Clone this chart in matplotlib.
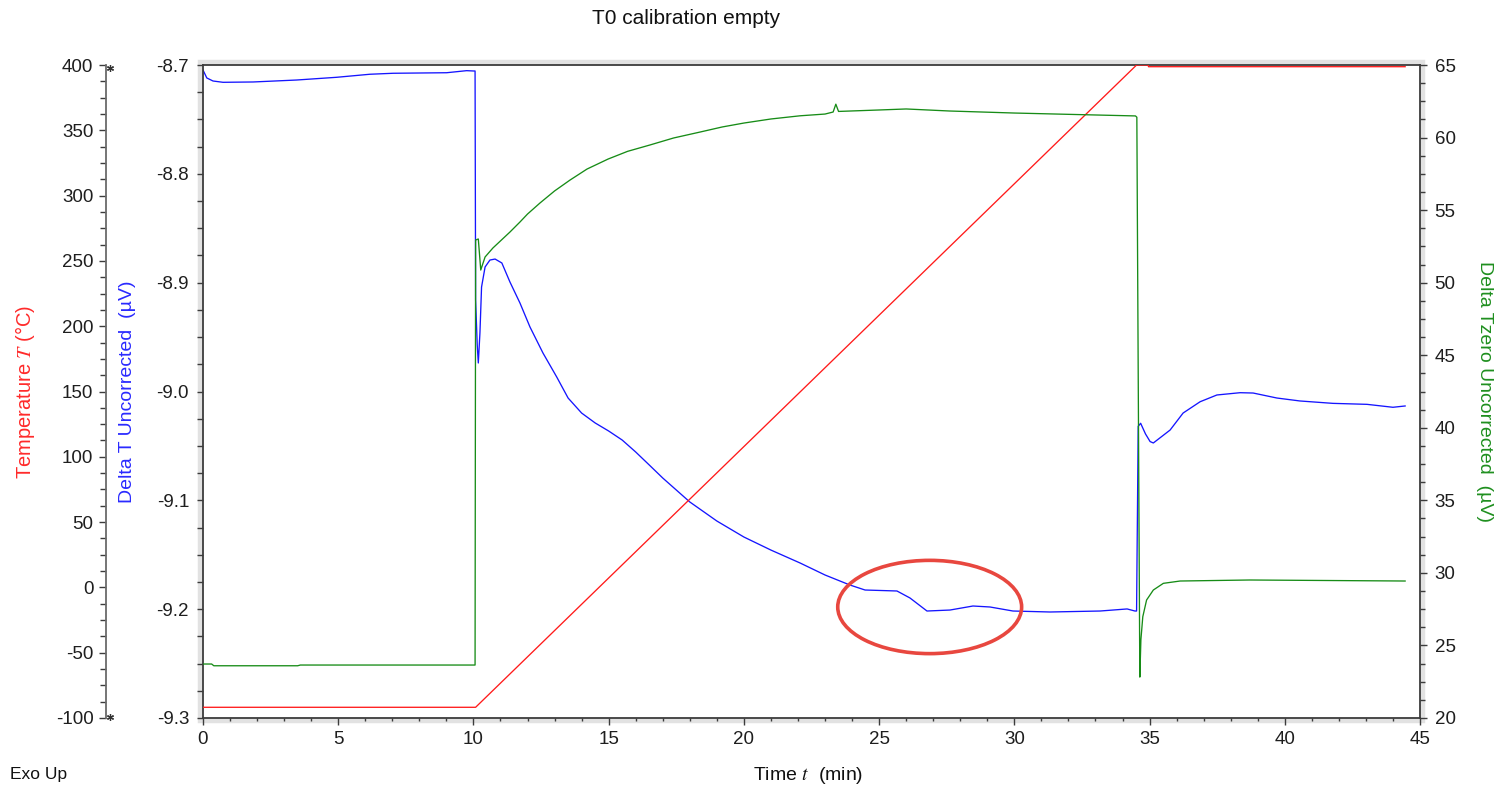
import matplotlib
matplotlib.use("Agg")
import matplotlib.pyplot as plt
from matplotlib.patches import Ellipse, Rectangle
from matplotlib.lines import Line2D
from matplotlib.ticker import MultipleLocator, FormatStrFormatter

plt.rcParams['font.family'] = ['Liberation Sans', 'DejaVu Sans']
plt.rcParams['mathtext.fontset'] = 'stix'
plt.rcParams['axes.unicode_minus'] = False

# ---------------- data ----------------
blue_t = [0.0, 0.14, 0.37, 0.74, 1.85, 3.46, 4.94, 6.17, 7.03, 9.01, 9.75, 10.0,
          10.06, 10.08, 10.14, 10.18, 10.24, 10.30, 10.43, 10.61, 10.80, 11.05,
          11.35, 11.72, 12.09, 12.57, 13.08, 13.50, 14.0, 14.5, 15.0, 15.5,
          16.0, 16.5, 17.0, 17.5, 18.0, 19.0, 20.0, 21.0, 22.08, 23.0,
          23.92, 24.48, 25.66, 26.14, 26.77, 27.62, 28.47, 29.1, 29.95, 31.32,
          33.17, 34.17, 34.46, 34.52, 34.58, 34.67, 34.85, 35.02, 35.14, 35.76,
          36.24, 36.87, 37.49, 38.35, 38.83, 39.71, 40.56, 41.78, 43.04, 44.0, 44.45]
blue_dT = [-8.7046, -8.7119, -8.7147, -8.7159, -8.7156, -8.7138, -8.7113, -8.7085,
           -8.7076, -8.7071, -8.7052, -8.7055,
           -8.7055, -8.9159, -8.9573, -8.9738, -8.9462, -8.9040, -8.8856, -8.8792,
           -8.8783, -8.8819, -8.8994, -8.9187, -8.9407, -8.9646, -8.9867, -9.0060,
           -9.0198, -9.0289, -9.0363, -9.0446, -9.0556, -9.0675, -9.0795, -9.0905,
           -9.1015, -9.1190, -9.1337, -9.1457, -9.1576, -9.1686, -9.1778,
           -9.1824, -9.1833, -9.1897, -9.2017, -9.2008, -9.1971, -9.1980, -9.2017,
           -9.2026, -9.2017, -9.1998, -9.2017,
           -9.2017, -9.0320, -9.0292, -9.0390, -9.0460, -9.0473, -9.0354, -9.0198,
           -9.0094, -9.0032, -9.0011, -9.0014, -9.0060, -9.0087, -9.0109, -9.0118,
           -9.0145, -9.0133]

green_t = [0.0, 0.32, 0.40, 3.5, 3.6, 10.06, 10.08, 10.18, 10.27, 10.43, 10.72,
           11.35, 11.72, 12.0, 12.46, 13.0, 13.57, 14.2, 14.98, 15.7, 16.53, 17.4,
           18.38, 19.2, 20.0, 21.0, 22.08, 23.0, 23.3, 23.4, 23.5, 25.0, 26.0,
           27.6, 30.0, 32.0, 34.48, 34.53, 34.64, 34.68, 34.75, 34.89, 35.14,
           35.51, 36.13, 38.7, 42.0, 44.45]
green_dT0 = [23.72, 23.72, 23.60, 23.60, 23.65, 23.65, 52.94, 53.01, 50.87, 51.77,
             52.39, 53.49, 54.18, 54.73, 55.49, 56.32, 57.07, 57.83, 58.52, 59.05,
             59.49, 59.97, 60.38, 60.73, 61.00, 61.28, 61.50, 61.62, 61.76, 62.30,
             61.80, 61.90, 61.97, 61.83, 61.69, 61.60, 61.49, 61.40, 22.82, 25.40,
             26.98, 28.13, 28.82, 29.28, 29.44, 29.51, 29.47, 29.44]

red_t = [0.0, 10.08, 34.52, 34.95, 34.96, 44.45]
red_T = [-91.8, -91.8, 400.0, 400.0, 398.7, 398.7]

x_ticks = [0, 5, 10, 15, 20, 25, 30, 35, 40, 45]

# highlighted region (annotation ellipse)
circle_center = (26.87, -9.198)
circle_size = (6.80, 0.0857)

# ---------------- figure ----------------
W, H = 1503, 787
fig = plt.figure(figsize=(W / 100, H / 100), dpi=100)
px_l, px_r, px_t, px_b = 203, 1420, 65, 718
ax = fig.add_axes([px_l / W, 1 - px_b / H, (px_r - px_l) / W, (px_b - px_t) / H])
ax.set_zorder(1)

# soft grey frame shadow around plot area
shadow = Rectangle((px_l / W, 1 - px_b / H), (px_r - px_l) / W, (px_b - px_t) / H,
                   transform=fig.transFigure, fill=False, edgecolor='#e2e2e2',
                   linewidth=7.5, zorder=-1)
fig.add_artist(shadow)

spine_col = '#3c3c3c'
tick_lbl_col = '#1e1e1e'
blue = '#1515ff'
green = '#178c17'
red = '#ff1a1a'

ax.plot(blue_t, blue_dT, color=blue, lw=0.95)
ax.set_xlim(0, 45)
ax.set_ylim(-9.3, -8.7)
ax.set_xticks(x_ticks)
ax.xaxis.set_minor_locator(MultipleLocator(1))
ax.yaxis.set_major_locator(MultipleLocator(0.1))
ax.yaxis.set_minor_locator(MultipleLocator(0.025))
ax.yaxis.set_major_formatter(FormatStrFormatter('%.1f'))
for s in ax.spines.values():
    s.set_color(spine_col)
    s.set_linewidth(1.3)
ax.spines['right'].set_visible(False)
ax.tick_params(axis='x', which='major', direction='out', length=5, width=1.0,
               pad=4.5, labelsize=13.5, colors=spine_col, labelcolor=tick_lbl_col)
ax.tick_params(axis='x', which='minor', direction='out', length=2.5, width=1.0,
               colors=spine_col)
ax.tick_params(axis='y', which='major', direction='out', length=4.5, width=1.0,
               pad=5.5, labelsize=13.5, colors=spine_col, labelcolor=tick_lbl_col)
ax.tick_params(axis='y', which='minor', direction='out', length=4, width=1.0,
               colors=spine_col)

ell = Ellipse(circle_center, circle_size[0], circle_size[1], fill=False,
              edgecolor='#e8473f', linewidth=2.6, zorder=5)
ax.add_patch(ell)

# temperature axis (outer left)
ax_t = ax.twinx()
ax_t.plot(red_t, red_T, color=red, lw=0.95)
ax_t.set_ylim(-100, 400)
for k in ['right', 'top', 'bottom']:
    ax_t.spines[k].set_visible(False)
ax_t.spines['left'].set_visible(True)
ax_t.spines['left'].set_position(('axes', (106 - px_l) / (px_r - px_l)))
ax_t.spines['left'].set_color('#6a6a6a')
ax_t.spines['left'].set_linewidth(1.3)
ax_t.yaxis.set_ticks_position('left')
ax_t.yaxis.set_label_position('left')
ax_t.yaxis.set_major_locator(MultipleLocator(50))
ax_t.yaxis.set_minor_locator(MultipleLocator(12.5))
ax_t.tick_params(axis='y', which='major', direction='out', length=5, width=1.0,
                 pad=4, labelsize=13.5, colors=spine_col, labelcolor=tick_lbl_col)
ax_t.tick_params(axis='y', which='minor', direction='out', length=4.5, width=1.0,
                 colors=spine_col)

# green axis (right)
ax_g = ax.twinx()
ax_g.plot(green_t, green_dT0, color=green, lw=0.95)
ax_g.set_ylim(20, 65)
for k in ['left', 'top', 'bottom']:
    ax_g.spines[k].set_visible(False)
ax_g.spines['right'].set_color(spine_col)
ax_g.spines['right'].set_linewidth(1.3)
ax_g.yaxis.set_major_locator(MultipleLocator(5))
ax_g.yaxis.set_minor_locator(MultipleLocator(1.25))
ax_g.tick_params(axis='y', which='major', direction='out', length=5, width=1.0,
                 pad=5.5, labelsize=13.5, colors=spine_col, labelcolor=tick_lbl_col)
ax_g.tick_params(axis='y', which='minor', direction='out', length=3.5, width=1.0,
                 colors=spine_col)

# asterisk end markers on temperature axis
for yy in (68, 717):
    fig.add_artist(Line2D([110 / W], [1 - yy / H], transform=fig.transFigure,
                          marker=(6, 2, 0), markersize=5, color='#333333',
                          linestyle='none', markeredgewidth=0.9))

# texts
yc = 1 - ((px_t + px_b) / 2) / H
fig.text(25 / W, yc, 'Temperature $T$ (°C)', rotation=90, color='#ff2a2a',
         ha='center', va='center', fontsize=14.5)
fig.text(127 / W, yc, 'Delta T Uncorrected  (µV)', rotation=90, color='#2a2aff',
         ha='center', va='center', fontsize=14)
fig.text(1485 / W, yc, 'Delta Tzero Uncorrected  (µV)', rotation=270, color='#1f8f1f',
         ha='center', va='center', fontsize=14)
fig.text(686 / W, 1 - 18 / H, 'T0 calibration empty', ha='center', va='center',
         fontsize=15, color='#111111')
fig.text(808 / W, 1 - 775 / H, 'Time $t$  (min)', ha='center', va='center',
         fontsize=14, color='#111111')
fig.text(10 / W, 1 - 775 / H, 'Exo Up', ha='left', va='center', fontsize=12.5,
         color='#111111')

fig.savefig('out.png', dpi=100)
